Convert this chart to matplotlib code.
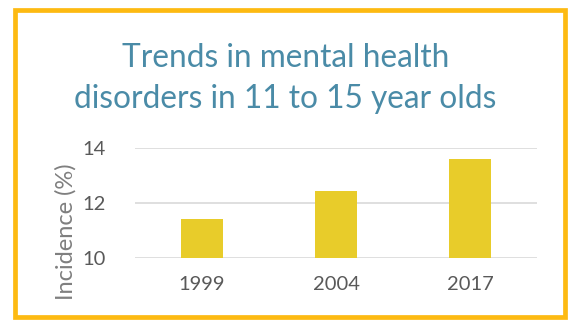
import matplotlib.pyplot as plt
from matplotlib.patches import Rectangle

# Data
years = ['1999', '2004', '2017']
incidence = [11.4, 12.45, 13.6]
y_ticks = [10, 12, 14]

plt.rcParams['font.family'] = ['Lato', 'DejaVu Sans']

W, H = 571, 320
fig = plt.figure(figsize=(W / 100, H / 100), dpi=100)

# Gold frame around the whole chart
fig.patches.append(Rectangle((14.5 / W, 1 - 316.5 / H), (565 - 14.5) / W, (316.5 - 10) / H,
                             transform=fig.transFigure, fill=False,
                             edgecolor='#FDBA12', linewidth=3.4))

ax = fig.add_axes([135 / W, 1 - 257.7 / H, 402 / W, (257.7 - 148.3) / H])
ax.bar(range(len(years)), incidence, width=0.31, color='#E8CC2A', zorder=3)
ax.set_xlim(-0.5, 2.5)
ax.set_ylim(10, 14)
ax.set_yticks(y_ticks)
ax.set_xticks(range(len(years)))
ax.set_xticklabels(years)
ax.grid(axis='y', color='#D9D9D9', linewidth=1.2, zorder=0)
for s in ax.spines.values():
    s.set_visible(False)
ax.tick_params(length=0, labelsize=14.5, colors='#595959')
ax.tick_params(axis='x', pad=13)
ax.tick_params(axis='y', pad=21)
ax.set_ylabel('Incidence (%)', fontsize=17, color='#7F7F7F', va='center')
# label sits lower than the axis centre in the original
ax.yaxis.set_label_coords(-0.172, 0.235)

fig.text(0.5, 1 - 58 / H, 'Trends in mental health', ha='center', va='center',
         fontsize=22.8, color='#4A8BA7')
fig.text(0.5, 1 - 99 / H, 'disorders in 11 to 15 year olds', ha='center', va='center',
         fontsize=22.8, color='#4A8BA7')

fig.savefig('out.png', dpi=100)
